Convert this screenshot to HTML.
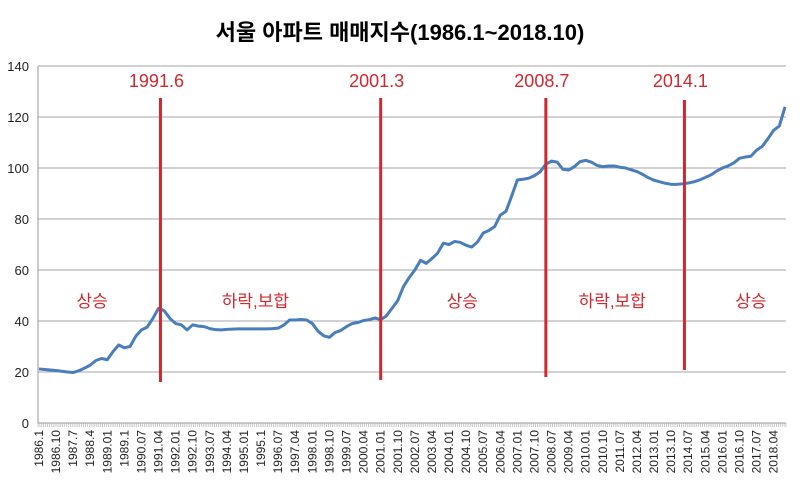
<!DOCTYPE html>
<html><head><meta charset="utf-8"><style>
body{margin:0;background:#fff;}
svg{display:block;font-family:"Liberation Sans","Noto Sans CJK KR",sans-serif;}
</style></head><body>
<svg id="chart" width="800" height="485" viewBox="0 0 800 485" xmlns="http://www.w3.org/2000/svg">
<text x="400" y="40" text-anchor="middle" font-size="22" font-weight="bold" fill="#000">서울 아파트 매매지수(1986.1~2018.10)</text>
<g id="grid"></g><g id="xaxis"></g><g id="yaxis"></g><g id="marks"></g><g id="notes"></g>
</svg>
<script>
const yTicks=[0,20,40,60,80,100,120,140];
const xLabels=["1986.1","1986.10","1987.7","1988.4","1989.01","1989.1","1990.07","1991.04","1992.01","1992.10","1993.07","1994.04","1995.01","1995.1","1996.07","1997.04","1998.01","1998.10","1999.07","2000.04","2001.01","2001.10","2002.07","2003.04","2004.01","2004.10","2005.07","2006.04","2007.01","2007.10","2008.07","2009.04","2010.01","2010.10","2011.07","2012.04","2013.01","2013.10","2014.07","2015.04","2016.01","2016.10","2017.07","2018.04"];
const labelStep=9;
const totalMonths=394;
const sampleStep=3;
const values=[21.2,21,20.8,20.6,20.3,20,19.8,20.5,21.5,22.7,24.5,25.3,24.8,28,30.6,29.5,30,34,36.5,37.6,41,45,44,41,39,38.5,36.5,38.5,38,37.8,37,36.6,36.5,36.7,36.8,36.9,36.9,36.9,36.9,36.9,36.9,37,37.2,38.4,40.4,40.4,40.6,40.4,39,36,34.2,33.6,35.5,36.3,37.8,39,39.4,40.2,40.5,41.2,40.5,42,45,48,53.5,57,60,63.8,62.6,64.5,66.6,70.5,70,71.2,70.8,69.7,69,71,74.5,75.5,77,81.5,83,89,95.3,95.6,96,97,98.5,101.5,102.7,102.3,99.5,99.2,100.5,102.5,103,102.3,101,100.5,100.8,100.8,100.3,100,99.3,98.6,97.5,96.2,95.2,94.6,94,93.6,93.6,93.8,94.1,94.6,95.3,96.3,97.3,98.8,100,100.8,102,103.8,104.3,104.6,107,108.5,111.5,114.8,116.5,124];
const eventLabels=["1991.6","2001.3","2008.7","2014.1"];
const eventMonths=[64,180,267,340];
const phaseLabels=["상승","하락,보합","상승","하락,보합","상승"];
const phaseMonths=[28,114,223,302,375];

const NS="http://www.w3.org/2000/svg";
const X0=38,X1=786,Y0=423,Y1=66,VMAX=140;
const mw=(X1-X0)/totalMonths;
const xm=m=>X0+mw*(m+0.5);
const yv=v=>Y0-(v/VMAX)*(Y0-Y1);
function mk(tag,attrs,parent){const e=document.createElementNS(NS,tag);for(const k in attrs)e.setAttribute(k,attrs[k]);parent.appendChild(e);return e;}
const grid=document.getElementById('grid'),xa=document.getElementById('xaxis'),ya=document.getElementById('yaxis'),marks=document.getElementById('marks'),notes=document.getElementById('notes');
yTicks.forEach(t=>{
  if(t>0){const g=mk('line',{x1:X0,x2:X1,y1:yv(t),y2:yv(t),stroke:'#a6a6a6','stroke-width':1},grid);
  
  }
  const tx=mk('text',{x:29,y:yv(t)+5,'text-anchor':'end','font-size':13,fill:'#222'},ya);
  tx.textContent=t;
  
  
});
const yl=mk('line',{x1:X0,x2:X0,y1:Y1,y2:Y0,stroke:'#999','stroke-width':1},ya);


const xl=mk('line',{x1:X0,x2:X1,y1:Y0,y2:Y0,stroke:'#999','stroke-width':1},xa);


let td='';for(let m=0;m<=totalMonths;m++){const x=(X0+mw*m).toFixed(2);td+=`M${x} ${Y0}V${Y0+4}`;}
const tk=mk('path',{d:td,stroke:'#aaa','stroke-width':0.6},xa);


xLabels.forEach((l,i)=>{
  const x=xm(i*labelStep)+4,y=430;
  const t=mk('text',{x:x,y:y,'text-anchor':'end','font-size':12,fill:'#222',transform:`rotate(-90 ${x} ${y})`},xa);
  t.textContent=l;
  
  
});
const pts=values.map((v,i)=>`${xm(i*sampleStep).toFixed(2)},${yv(v).toFixed(2)}`).join(' ');
const ln=mk('polyline',{points:pts,fill:'none',stroke:'#4a7ebb','stroke-width':3,'stroke-linejoin':'round'},marks);


const evTop=[98,98,98,100],evBot=[382,380,377,370];
eventMonths.forEach((m,i)=>{
  const x=xm(m);
  const l=mk('line',{x1:x,x2:x,y1:evTop[i],y2:evBot[i],stroke:'#d0282e','stroke-width':3},notes);
  
  
  const t=mk('text',{x:x-4,y:87,'text-anchor':'middle','font-size':18,fill:'#d0282e'},notes);
  t.textContent=eventLabels[i];
  
  
});
phaseMonths.forEach((m,i)=>{
  const t=mk('text',{x:xm(m),y:307,'text-anchor':'middle','font-size':17,fill:'#d0282e'},notes);
  t.textContent=phaseLabels[i];
  
  
});
</script>
</body></html>
